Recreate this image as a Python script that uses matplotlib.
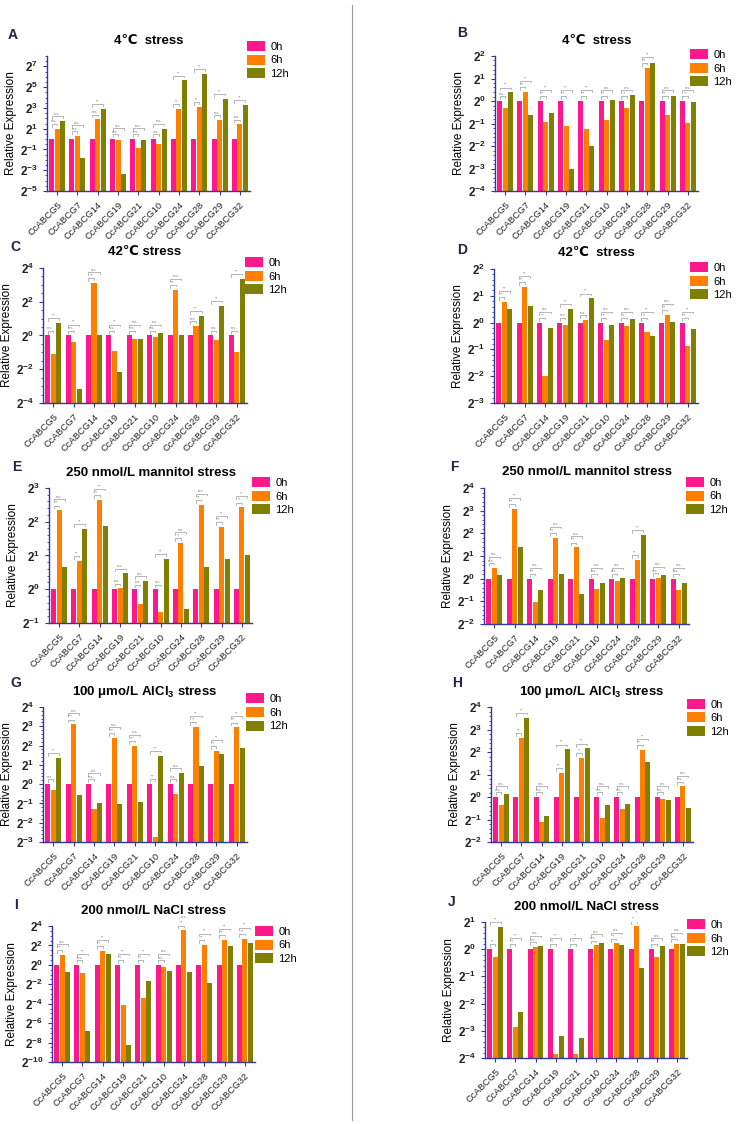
import numpy as np
import matplotlib.pyplot as plt
from matplotlib.lines import Line2D
from matplotlib.ticker import AutoMinorLocator

plt.rcParams['font.family'] = ['Liberation Sans', 'DejaVu Sans']
plt.rcParams['mathtext.fontset'] = 'custom'
plt.rcParams['mathtext.rm'] = 'Liberation Sans'
plt.rcParams['mathtext.bf'] = 'Liberation Sans:bold'
plt.rcParams['mathtext.default'] = 'bf'

genes = ['CcABCG5', 'CcABCG7', 'CcABCG14', 'CcABCG19', 'CcABCG21',
         'CcABCG10', 'CcABCG24', 'CcABCG28', 'CcABCG29', 'CcABCG32']
times = ['0h', '6h', '12h']
colors = ['#FF178C', '#FF8000', '#808000']
axis_col = '#35359A'

# log2 of relative expression (0h is the reference, log2 = 0)
a_6h = [1.0, 0.3, 1.9, -0.13, -0.84, -0.5, 2.9, 3.1, 1.84, 1.42]
a_12h = [1.74, -1.8, 2.9, -3.4, -0.13, 1.0, 5.65, 6.26, 3.9, 3.3]
b_6h = [-0.31, 0.42, -0.93, -1.09, -1.24, -0.84, -0.33, 1.48, -0.61, -0.97]
b_12h = [0.39, -0.63, -0.54, -3.04, -2.0, 0.04, 0.28, 1.70, 0.24, -0.06]
c_6h = [-1.09, -0.38, 3.1, -0.9, -0.2, -0.06, 2.72, 0.56, -0.26, -0.99]
c_12h = [0.75, -3.2, 0.0, -2.14, -0.2, 0.14, 0.04, 1.15, 1.77, 3.37]
d_6h = [0.77, 1.33, -1.99, -0.1, 0.09, -0.66, -0.12, -0.34, 0.3, -0.88]
d_12h = [0.49, 0.63, -0.19, 0.52, 0.91, -0.1, 0.14, -0.5, 0.04, -0.25]
e_6h = [2.34, 0.85, 2.65, 0.03, -0.44, -0.68, 1.37, 2.51, 1.84, 2.43]
e_12h = [0.66, 1.79, 1.86, 0.47, 0.24, 0.89, -0.59, 0.66, 0.91, 1.02]
f_6h = [0.48, 3.07, -1.04, 1.8, 1.38, -0.46, -0.12, 0.83, 0.04, -0.48]
f_12h = [0.18, 1.4, -0.49, 0.21, -0.67, -0.19, 0.03, 1.93, 0.18, -0.18]
g_6h = [-0.28, 3.1, -1.31, 2.39, 1.99, -2.72, -0.51, 2.98, 1.71, 2.95]
g_12h = [1.36, -0.58, -0.96, -1.01, -0.92, 1.48, 0.58, 0.92, 1.55, 1.88]
h_6h = [-0.36, 2.62, -1.13, 1.08, 1.73, -0.92, -0.55, 2.1, -0.07, 0.47]
h_12h = [0.12, 3.53, -0.83, 2.12, 2.16, -0.37, -0.3, 1.54, -0.13, -0.5]
i_6h = [1.0, -0.81, 1.42, -4.1, -3.4, -0.19, 3.55, 2.09, 2.58, 2.71]
i_12h = [-0.78, -6.8, 1.08, -8.3, -1.7, -0.6, -0.78, -1.85, 1.92, 2.27]
j_6h = [-0.3, -2.85, 0.09, -3.87, -3.84, 0.14, 0.21, 0.85, -0.27, 0.2]
j_12h = [0.83, -2.31, 0.1, -3.19, -3.28, 0.21, 0.17, -0.68, 0.11, 0.2]

# significance labels (0h vs 6h, 0h vs 12h)
a_s6 = ['n.s.', 'n.s.', 'n.s.', 'n.s.', 'n.s.', 'n.s.', '**', '**', 'n.s.', 'n.s.']
a_s12 = ['n.s.', 'n.s.', '**', 'n.s.', 'n.s.', 'n.s.', '**', '**', '**', '**']
b_s6 = ['n.s.', '**', '**', '**', '**', '**', '**', '**', '**', '**']
b_s12 = ['**', '**', '**', '**', '**', 'n.s.', 'n.s.', '**', 'n.s.', 'n.s.']
c_s6 = ['n.s.', 'n.s.', '**', 'n.s.', 'n.s.', 'n.s.', '**', 'n.s.', 'n.s.', 'n.s.']
c_s12 = ['**', '**', 'n.s.', '**', 'n.s.', 'n.s.', 'n.s.', '**', '**', '**']
d_s6 = ['**', '**', '**', 'n.s.', 'n.s.', '**', '**', '**', '**', '**']
d_s12 = ['**', '**', 'n.s.', '**', '**', 'n.s.', 'n.s.', '**', 'n.s.', '**']
e_s6 = ['**', '**', '**', 'n.s.', 'n.s.', 'n.s.', '**', '**', '**', '**']
e_s12 = ['n.s.', '**', '**', 'n.s.', 'n.s.', '**', 'n.s.', 'n.s.', '**', '**']
f_s6 = ['n.s.', '**', '**', '**', '**', 'n.s.', 'n.s.', '**', 'n.s.', 'n.s.']
f_s12 = ['n.s.', '**', 'n.s.', 'n.s.', 'n.s.', 'n.s.', 'n.s.', '**', 'n.s.', 'n.s.']
g_s6 = ['n.s.', '***', 'n.s.', '***', '***', '**', 'n.s.', '**', '**', '**']
g_s12 = ['**', 'n.s.', 'n.s.', 'n.s.', 'n.s.', '**', 'n.s.', '**', '**', '**']
h_s6 = ['n.s.', '**', 'n.s.', '**', '**', 'n.s.', 'n.s.', '**', 'n.s.', 'n.s.']
h_s12 = ['n.s.', '**', 'n.s.', '**', '**', 'n.s.', 'n.s.', '**', 'n.s.', 'n.s.']
i_s6 = ['**', 'n.s.', '**', '**', '**', 'n.s.', '**', '**', '**', '**']
i_s12 = ['n.s.', '**', '**', '**', '**', 'n.s.', 'n.s.', '**', '**', '**']
j_s6 = ['**', '**', 'n.s.', '**', '**', 'n.s.', '**', '**', '**', 'n.s.']
j_s12 = ['**', '**', 'n.s.', '**', '**', 'n.s.', 'n.s.', '**', 'n.s.', 'n.s.']

titles = ['4\u2103  stress', '4\u2103  stress', '42\u2103 stress', '42\u2103  stress',
          '250 nmol/L mannitol stress', '250 nmol/L mannitol stress',
          '100 \u03bcmo/L AlCl$_3$ stress', '100 \u03bcmo/L AlCl$_3$ stress',
          '200 nmol/L NaCl stress', '200 nmol/L NaCl stress']
letters = list('ABCDEFGHIJ')

W, H = 737, 1124
# data, y range, major step, axes box (px: left, right, top, bottom), legend anchor, letter pos
panels = [
    (a_6h, a_12h, a_s6, a_s12, -5, 8, 2, (47, 250, 56, 191), (0.985, 1.11), (8, 35)),
    (b_6h, b_12h, b_s6, b_s12, -4, 2, 1, (495, 698, 56, 191), (0.96, 1.05), (457, 33)),
    (c_6h, c_12h, c_s6, c_s12, -4, 4, 2, (43, 247, 268, 403), (0.99, 1.08), (10, 247)),
    (d_6h, d_12h, d_s6, d_s12, -3, 2, 1, (494, 698, 269, 403), (0.96, 1.05), (457, 250)),
    (e_6h, e_12h, e_s6, e_s12, -1, 3, 1, (49, 252, 488, 623), (1.0, 1.08), (12, 467)),
    (f_6h, f_12h, f_s6, f_s12, -2, 4, 1, (484, 689, 488, 624), (0.985, 1.08), (450, 467)),
    (g_6h, g_12h, g_s6, g_s12, -3, 4, 1, (43, 247, 707, 842), (0.995, 1.10), (10, 683)),
    (h_6h, h_12h, h_s6, h_s12, -2, 4, 1, (491, 693, 707, 842), (0.97, 1.06), (452, 683)),
    (i_6h, i_12h, i_s6, i_s12, -10, 4, 2, (52, 255, 926, 1062), (1.0, 1.0), (14, 905)),
    (j_6h, j_12h, j_s6, j_s12, -4, 1, 1, (485, 687, 922, 1058), (1.0, 1.02), (448, 902)),
]

fig = plt.figure(figsize=(W / 100, H / 100), dpi=100)

x = np.arange(len(genes))
w = 0.27
for n, (v6, v12, s6, s12, lo, hi, step, box, leg, lpos) in enumerate(panels):
    l, r, t, b = box
    ax = fig.add_axes([l / W, 1 - b / H, (r - l) / W, (b - t) / H])
    vals = [np.zeros(len(genes)), np.array(v6), np.array(v12)]
    for k in range(3):
        ax.bar(x + (k - 1) * w, vals[k] - lo, w * 0.92, bottom=lo,
               color=colors[k], label=times[k], zorder=2)

    # significance brackets
    d = (hi - lo) * 0.035
    for i in range(len(genes)):
        x0, x1, x2 = x[i] - w, x[i], x[i] + w
        y1 = max(0, v6[i]) + d
        y2 = max(y1 + 1.3 * d, v12[i] + d)
        ax.plot([x0, x0, x1, x1], [y1 - 0.6 * d, y1, y1, y1 - 0.3 * d],
                color='#999999', lw=0.5, zorder=3)
        ax.plot([x0, x0, x2, x2], [y2 - 0.6 * d, y2, y2, y2 - 0.3 * d],
                color='#999999', lw=0.5, zorder=3)
        ax.text((x0 + x1) / 2, y1 + 0.1 * d, s6[i], fontsize=3, color='#777777',
                ha='center', va='bottom')
        ax.text((x0 + x2) / 2, y2 + 0.1 * d, s12[i], fontsize=3, color='#777777',
                ha='center', va='bottom')

    ax.set_xlim(-0.5, len(genes) - 0.5)
    ax.set_ylim(lo, hi)
    ticks = np.arange(lo, hi + 0.01, step)
    if lo == -5:
        ticks = np.arange(-5, 8, 2)
    ax.set_yticks(ticks)
    ax.set_yticklabels([f'$2^{{{int(e)}}}$' for e in ticks], fontsize=8.5)
    ax.yaxis.set_minor_locator(AutoMinorLocator(4 if step == 2 else 5))
    ax.set_xticks(x)
    ax.set_xticklabels(genes, rotation=45, ha='right', rotation_mode='anchor',
                       fontsize=6.8, color='#333333')
    for s in ['top', 'right']:
        ax.spines[s].set_visible(False)
    for s in ['left', 'bottom']:
        ax.spines[s].set_color(axis_col)
        ax.spines[s].set_linewidth(1.0)
    ax.tick_params(axis='both', colors=axis_col, labelcolor='#222222', length=3, width=0.8)
    ax.tick_params(axis='y', which='minor', colors=axis_col, length=1.8, width=0.6)
    ax.set_ylabel('Relative Expression', fontsize=8.5, labelpad=2)
    ax.set_title(titles[n], fontsize=9.5, fontweight='bold', pad=9)
    ax.legend(loc='upper left', bbox_to_anchor=leg, frameon=False, fontsize=8,
              handlelength=1.6, handleheight=1.0, borderpad=0, borderaxespad=0,
              labelspacing=0.25, handletextpad=0.5)
    fig.text(lpos[0] / W, 1 - lpos[1] / H, letters[n], fontsize=10, fontweight='bold',
             color='#222244', va='center', ha='left')

fig.add_artist(Line2D([352 / W, 352 / W], [1 - 5 / H, 1 - 1120 / H],
                      color='#999999', lw=0.8))

fig.savefig('out.png', dpi=100)
